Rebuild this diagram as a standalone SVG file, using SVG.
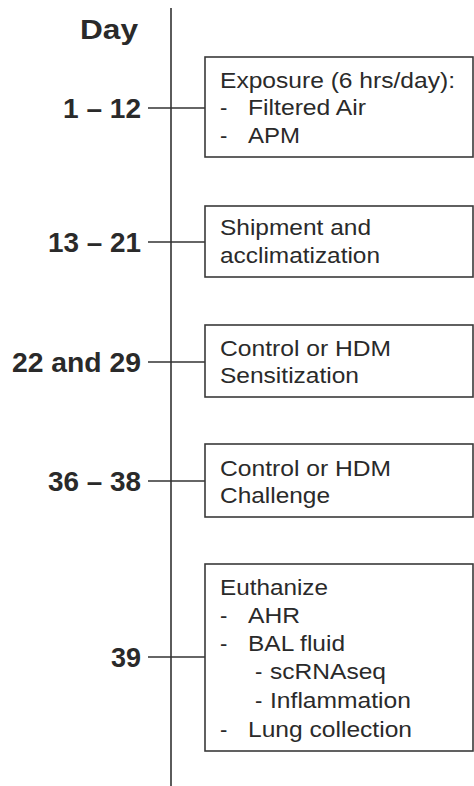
<svg xmlns="http://www.w3.org/2000/svg" width="474" height="786" viewBox="0 0 474 786">
<style>
.lbl{font-family:"Liberation Sans",Arial,sans-serif;font-weight:bold;font-size:27px;fill:#2a2a2a;text-anchor:end}
.txt{font-family:"Liberation Sans",Arial,sans-serif;font-size:22px;fill:#2a2a2a}
.box{fill:#fff;stroke:#3a3a3a;stroke-width:1.6}
.ln{stroke:#333;stroke-width:1.6;fill:none}
</style>
<rect width="474" height="786" fill="#fff"/>
<g id="axis">
<line class="ln" x1="171" y1="8" x2="171" y2="786"/>
<text class="lbl" x="138" y="39" textLength="58" lengthAdjust="spacingAndGlyphs">Day</text>
</g>
<g id="connectors">
<line class="ln" x1="148" y1="108" x2="205" y2="108"/>
<line class="ln" x1="148" y1="242" x2="205" y2="242"/>
<line class="ln" x1="148" y1="362" x2="205" y2="362"/>
<line class="ln" x1="148" y1="481" x2="205" y2="481"/>
<line class="ln" x1="148" y1="657" x2="205" y2="657"/>
</g>
<g id="n1">
<text class="lbl" x="141" y="118" textLength="78" lengthAdjust="spacingAndGlyphs">1 – 12</text>
<rect class="box" x="205" y="57" width="268" height="100"/>
<text class="txt" x="220" y="88" textLength="235" lengthAdjust="spacingAndGlyphs">Exposure (6 hrs/day):</text>
<text class="txt" x="220" y="115">-</text>
<text class="txt" x="248" y="115" textLength="118" lengthAdjust="spacingAndGlyphs">Filtered Air</text>
<text class="txt" x="220" y="143">-</text>
<text class="txt" x="248" y="143" textLength="52" lengthAdjust="spacingAndGlyphs">APM</text>
</g>
<g id="n2">
<text class="lbl" x="141" y="252" textLength="93" lengthAdjust="spacingAndGlyphs">13 – 21</text>
<rect class="box" x="205" y="206" width="268" height="71"/>
<text class="txt" x="220" y="235" textLength="151" lengthAdjust="spacingAndGlyphs">Shipment and</text>
<text class="txt" x="220" y="263" textLength="160" lengthAdjust="spacingAndGlyphs">acclimatization</text>
</g>
<g id="n3">
<text class="lbl" x="141" y="372" textLength="129" lengthAdjust="spacingAndGlyphs">22 and 29</text>
<rect class="box" x="205" y="325" width="268" height="72"/>
<text class="txt" x="220" y="356" textLength="171" lengthAdjust="spacingAndGlyphs">Control or HDM</text>
<text class="txt" x="220" y="383" textLength="139" lengthAdjust="spacingAndGlyphs">Sensitization</text>
</g>
<g id="n4">
<text class="lbl" x="141" y="491" textLength="93" lengthAdjust="spacingAndGlyphs">36 – 38</text>
<rect class="box" x="205" y="444" width="268" height="73"/>
<text class="txt" x="220" y="476" textLength="171" lengthAdjust="spacingAndGlyphs">Control or HDM</text>
<text class="txt" x="220" y="503" textLength="110" lengthAdjust="spacingAndGlyphs">Challenge</text>
</g>
<g id="n5">
<text class="lbl" x="141" y="667" textLength="30" lengthAdjust="spacingAndGlyphs">39</text>
<rect class="box" x="205" y="564" width="268" height="187"/>
<text class="txt" x="220" y="595" textLength="108" lengthAdjust="spacingAndGlyphs">Euthanize</text>
<text class="txt" x="220" y="623">-</text>
<text class="txt" x="248" y="623" textLength="52" lengthAdjust="spacingAndGlyphs">AHR</text>
<text class="txt" x="220" y="651">-</text>
<text class="txt" x="248" y="651" textLength="97" lengthAdjust="spacingAndGlyphs">BAL fluid</text>
<text class="txt" x="255" y="679">-</text>
<text class="txt" x="270" y="679" textLength="116" lengthAdjust="spacingAndGlyphs">scRNAseq</text>
<text class="txt" x="255" y="708">-</text>
<text class="txt" x="270" y="708" textLength="141" lengthAdjust="spacingAndGlyphs">Inflammation</text>
<text class="txt" x="220" y="737">-</text>
<text class="txt" x="248" y="737" textLength="164" lengthAdjust="spacingAndGlyphs">Lung collection</text>
</g>
</svg>
